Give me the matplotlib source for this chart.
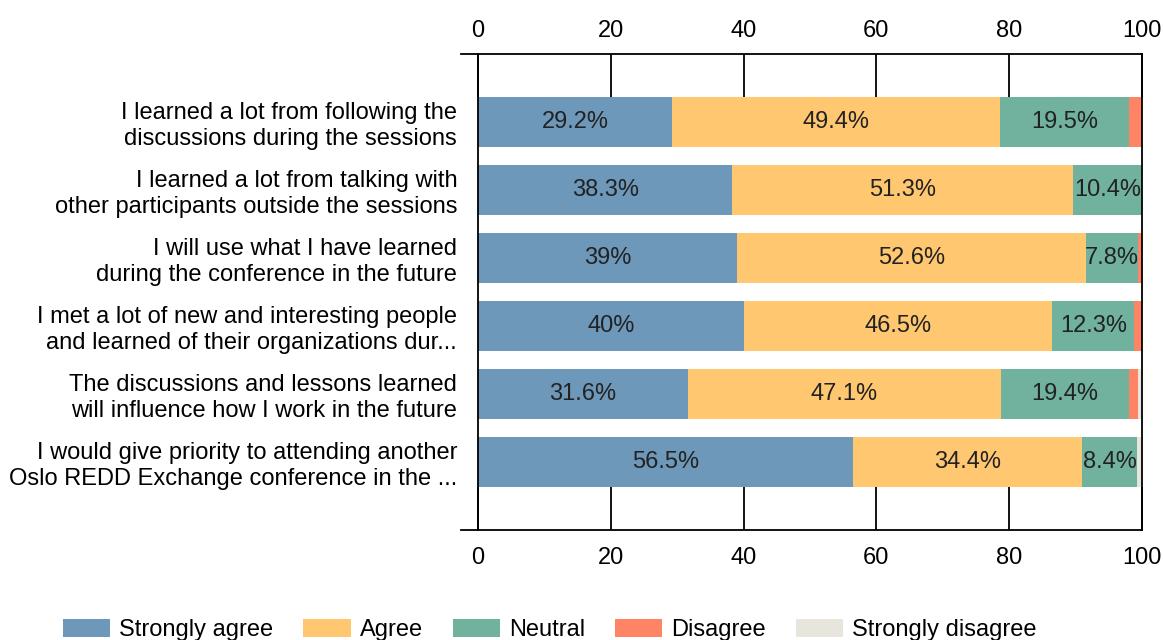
import matplotlib.pyplot as plt
import numpy as np

plt.rcParams['font.family'] = ['Liberation Sans', 'DejaVu Sans']

questions = ['I learned a lot from following the\ndiscussions during the sessions',
             'I learned a lot from talking with\nother participants outside the sessions',
             'I will use what I have learned\nduring the conference in the future',
             'I met a lot of new and interesting people\nand learned of their organizations dur...',
             'The discussions and lessons learned\nwill influence how I work in the future',
             'I would give priority to attending another\nOslo REDD Exchange conference in the ...']
answers = ['Strongly agree', 'Agree', 'Neutral', 'Disagree', 'Strongly disagree']
strongly_agree = [29.2, 38.3, 39.0, 40.0, 31.6, 56.5]
agree = [49.4, 51.3, 52.6, 46.5, 47.1, 34.4]
neutral = [19.5, 10.4, 7.8, 12.3, 19.4, 8.4]
disagree = [1.9, 0.0, 0.6, 1.2, 1.3, 0.0]
strongly_disagree = [0.0, 0.0, 0.0, 0.0, 0.6, 0.7]
xticks = [0, 20, 40, 60, 80, 100]
colors = ['#6d98ba', '#ffc870', '#70b29e', '#ff8466', '#e8e5dd']

fs = 17

fig = plt.figure(figsize=(11.63, 6.4), dpi=100)
ax = fig.add_axes([0.411, 0.172, 0.571, 0.744])

series = [strongly_agree, agree, neutral, disagree, strongly_disagree]
y = np.arange(len(questions))
left = np.zeros(len(questions))
for vals, name, c in zip(series, answers, colors):
    vals = np.array(vals)
    ax.barh(y, vals, left=left, height=0.74, color=c, label=name, zorder=2)
    for i, v in enumerate(vals):
        if v >= 5:
            ax.text(left[i] + v / 2, y[i], f'{v:g}%', ha='center', va='center',
                    fontsize=fs, color='#222222', zorder=3)
    left = left + vals

ax.set_xlim(0, 100)
ax.set_ylim(6, -1)
ax.set_xticks(xticks)
ax.set_yticks(y)
ax.set_yticklabels(questions, fontsize=fs, linespacing=1.22)
ax.tick_params(axis='y', length=0, pad=15)
ax.tick_params(axis='x', which='major', direction='in', length=31, width=1.3,
               top=True, labeltop=False, labelsize=fs, pad=12)
ax.set_xticks(xticks, minor=True)
ax.tick_params(axis='x', which='minor', direction='out', length=6, width=1.3,
               top=True)
for s in ax.spines.values():
    s.set_linewidth(1.3)
    s.set_zorder(4)
for yy in [0, 1]:
    ax.plot([-0.025, 0], [yy, yy], transform=ax.transAxes, color='black',
            lw=1.3, clip_on=False)

# top labels
sec = ax.secondary_xaxis('top')
sec.set_xticks(xticks)
sec.tick_params(length=0, pad=8.8, labelsize=fs)
sec.spines['top'].set_visible(False)

leg = fig.legend(loc='lower left', bbox_to_anchor=(0.036, -0.035), ncol=5,
                 frameon=False, fontsize=fs, handlelength=2.0, handleheight=0.85,
                 columnspacing=1.27, handletextpad=0.38)

fig.savefig('out.png', dpi=100)
